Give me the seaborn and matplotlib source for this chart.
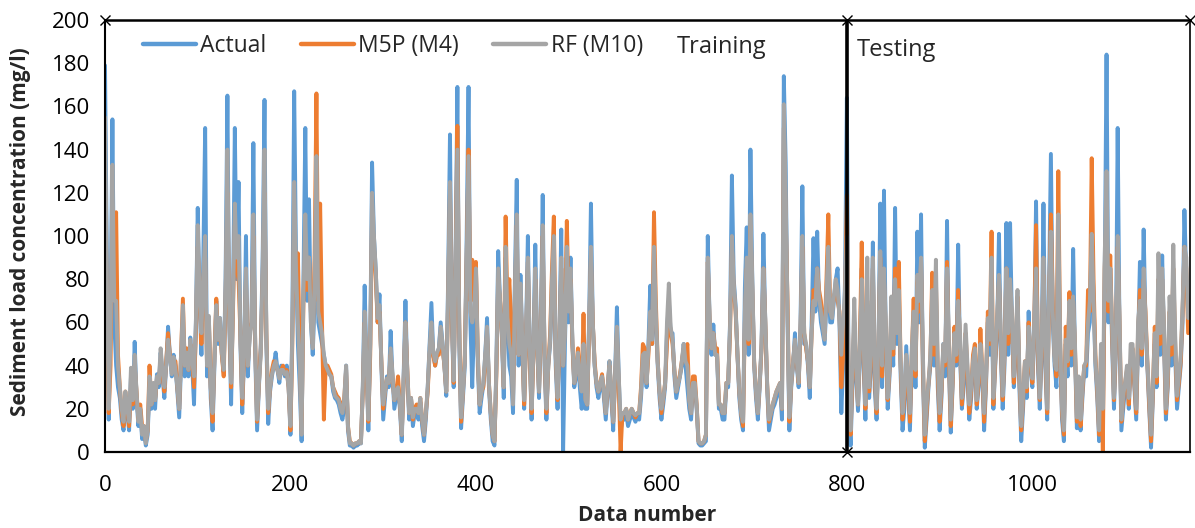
import numpy as np
import pandas as pd
import matplotlib
matplotlib.use("Agg")
import matplotlib.pyplot as plt
import seaborn as sns

# ---------------- data (every 2nd data number) ----------------
train_number = np.arange(0, 800, 2)     # 0..798
test_number = np.arange(800, 1169, 2)   # 800..1168

actual_train = [
    179, 90, 15, 60, 154, 60, 40, 30, 25, 15,
    10, 25, 18, 10, 35, 20, 51, 25, 12, 20,
    6, 10, 3, 8, 30, 20, 28, 20, 36, 30,
    46, 35, 25, 40, 58, 45, 35, 45, 40, 28,
    16, 40, 60, 35, 45, 35, 53, 40, 22, 60,
    113, 70, 45, 90, 150, 35, 60, 25, 10, 40,
    70, 50, 62, 45, 37, 80, 165, 60, 22, 70,
    150, 80, 125, 50, 18, 45, 100, 35, 55, 60,
    143, 45, 10, 30, 50, 90, 163, 50, 13, 28,
    35, 40, 46, 38, 32, 40, 38, 35, 40, 30,
    8, 60, 167, 90, 50, 30, 5, 80, 150, 70,
    117, 60, 45, 70, 120, 60, 55, 50, 45, 40,
    38, 36, 35, 28, 25, 24, 22, 18, 15, 20,
    40, 10, 3, 3, 2, 3, 3, 4, 4, 30,
    77, 40, 10, 50, 134, 100, 84, 60, 73, 40,
    15, 25, 35, 30, 56, 35, 20, 25, 30, 20,
    5, 35, 70, 35, 15, 25, 12, 18, 20, 15,
    23, 12, 5, 15, 30, 50, 69, 45, 40, 45,
    48, 60, 50, 40, 26, 80, 147, 60, 30, 90,
    169, 50, 11, 25, 40, 100, 169, 60, 30, 60,
    85, 40, 18, 25, 31, 45, 62, 30, 15, 5,
    3, 40, 93, 70, 53, 25, 90, 60, 40, 35,
    18, 80, 126, 40, 82, 50, 20, 55, 100, 45,
    15, 50, 96, 50, 25, 60, 119, 40, 15, 40,
    50, 70, 90, 40, 20, 55, 103, 0, 50, 90,
    60, 90, 50, 30, 35, 44, 30, 20, 30, 20,
    20, 60, 115, 60, 40, 30, 25, 30, 35, 25,
    15, 28, 42, 25, 10, 35, 67, 35, 10, 15,
    15, 18, 12, 15, 18, 16, 14, 16, 15, 25,
    40, 45, 30, 50, 77, 50, 90, 60, 40, 25,
    15, 22, 30, 55, 70, 55, 55, 35, 25, 30,
    35, 40, 50, 40, 30, 20, 15, 30, 30, 20,
    4, 3, 3, 4, 5, 100, 60, 45, 59, 45,
    45, 20, 20, 15, 15, 30, 30, 60, 128, 80,
    68, 45, 25, 15, 10, 76, 104, 45, 140, 80,
    40, 25, 15, 30, 50, 101, 60, 30, 10, 15,
    20, 22, 25, 28, 30, 15, 174, 134, 60, 10,
    30, 40, 55, 40, 30, 60, 123, 50, 50, 40,
    25, 60, 99, 65, 102, 70, 60, 55, 50, 70,
    85, 60, 60, 70, 80, 85, 60, 18, 40, 80,
]
actual_test = [
    164, 20, 3, 30, 52, 35, 19, 45, 85, 40,
    15, 60, 25, 40, 97, 30, 15, 45, 115, 30,
    121, 50, 20, 35, 60, 40, 113, 50, 70, 35,
    10, 20, 49, 30, 10, 40, 60, 30, 102, 60,
    110, 35, 2, 15, 30, 40, 70, 40, 75, 30,
    10, 25, 50, 35, 107, 40, 9, 30, 56, 40,
    96, 45, 20, 30, 50, 35, 15, 25, 40, 45,
    20, 30, 45, 35, 10, 30, 60, 45, 80, 20,
    40, 55, 101, 45, 20, 40, 106, 45, 106, 60,
    30, 45, 70, 30, 5, 20, 40, 25, 65, 40,
    30, 55, 116, 40, 20, 45, 115, 40, 15, 75,
    138, 60, 40, 30, 100, 45, 15, 5, 50, 35,
    70, 40, 94, 45, 11, 30, 10, 25, 39, 35,
    55, 60, 100, 70, 40, 25, 5, 40, 10, 80,
    184, 60, 85, 50, 20, 45, 150, 55, 10, 20,
    30, 35, 20, 40, 45, 30, 15, 50, 88, 40,
    103, 60, 40, 20, 2, 25, 50, 30, 70, 45,
    91, 50, 15, 30, 60, 40, 80, 45, 20, 30,
    40, 60, 112, 80, 65,
]

m5p_train = [
    128, 70, 18, 40, 110, 80, 111, 45, 30, 18,
    12, 28, 20, 12, 30, 22, 40, 28, 15, 22,
    12, 12, 5, 10, 40, 22, 30, 24, 34, 32,
    42, 36, 28, 42, 55, 45, 38, 42, 42, 30,
    20, 45, 71, 40, 48, 38, 50, 42, 30, 55,
    95, 75, 50, 80, 90, 40, 62, 30, 14, 45,
    71, 52, 58, 45, 35, 70, 120, 65, 30, 65,
    105, 85, 80, 55, 22, 45, 80, 40, 55, 60,
    100, 50, 14, 32, 48, 80, 120, 55, 18, 30,
    38, 42, 40, 38, 35, 38, 40, 36, 38, 30,
    10, 50, 110, 80, 92, 45, 10, 70, 95, 75,
    90, 65, 50, 90, 166, 70, 115, 60, 15, 40,
    40, 38, 36, 30, 28, 26, 25, 22, 20, 25,
    38, 12, 5, 4, 3, 4, 4, 5, 5, 28,
    60, 40, 14, 45, 110, 95, 80, 60, 65, 42,
    20, 28, 34, 32, 45, 35, 24, 28, 35, 22,
    8, 32, 60, 38, 18, 25, 15, 20, 22, 18,
    25, 15, 8, 18, 28, 45, 55, 45, 40, 45,
    45, 55, 48, 40, 28, 70, 120, 65, 32, 85,
    151, 60, 14, 28, 45, 90, 140, 70, 89, 70,
    88, 45, 22, 28, 30, 42, 55, 32, 18, 8,
    5, 35, 80, 70, 55, 30, 109, 65, 80, 60,
    25, 70, 105, 45, 72, 50, 22, 50, 88, 45,
    18, 45, 80, 50, 28, 55, 100, 45, 18, 40,
    55, 85, 109, 45, 24, 50, 85, 40, 60, 107,
    70, 80, 50, 32, 38, 48, 35, 30, 64, 25,
    22, 55, 90, 60, 42, 32, 28, 32, 36, 28,
    18, 30, 40, 28, 14, 32, 55, 30, 0, 18,
    18, 20, 15, 18, 20, 18, 16, 18, 18, 30,
    50, 48, 32, 45, 60, 50, 111, 70, 42, 28,
    18, 25, 32, 50, 65, 55, 50, 38, 28, 32,
    36, 42, 48, 45, 50, 25, 18, 35, 35, 22,
    5, 4, 4, 5, 8, 88, 60, 48, 55, 48,
    48, 22, 22, 18, 18, 32, 32, 55, 95, 75,
    65, 45, 28, 18, 12, 60, 85, 50, 105, 75,
    42, 28, 18, 32, 48, 85, 60, 32, 14, 18,
    22, 25, 28, 30, 32, 20, 150, 110, 70, 14,
    32, 42, 50, 42, 32, 55, 95, 55, 48, 42,
    30, 55, 75, 70, 85, 75, 70, 60, 55, 80,
    110, 65, 65, 72, 75, 70, 65, 30, 45, 70,
]
m5p_test = [
    119, 25, 8, 35, 60, 38, 22, 50, 97, 45,
    20, 70, 28, 45, 85, 35, 18, 48, 90, 35,
    80, 55, 24, 38, 65, 45, 85, 60, 88, 40,
    15, 25, 40, 32, 14, 45, 71, 35, 80, 65,
    88, 40, 5, 18, 32, 42, 83, 45, 80, 35,
    14, 28, 48, 40, 88, 45, 12, 32, 58, 42,
    75, 50, 22, 35, 55, 38, 18, 28, 45, 50,
    22, 32, 57, 38, 14, 32, 65, 50, 102, 22,
    42, 60, 80, 50, 24, 45, 85, 50, 75, 62,
    32, 48, 72, 35, 10, 24, 42, 28, 60, 42,
    32, 58, 105, 45, 24, 50, 82, 45, 18, 70,
    110, 70, 45, 35, 130, 50, 18, 8, 58, 40,
    74, 45, 70, 48, 14, 32, 12, 28, 40, 40,
    75, 65, 136, 80, 45, 28, 8, 45, 0, 85,
    110, 65, 91, 55, 24, 50, 95, 60, 14, 24,
    32, 38, 22, 42, 48, 32, 18, 55, 75, 45,
    80, 65, 42, 22, 5, 28, 58, 32, 80, 50,
    80, 55, 18, 32, 65, 45, 85, 50, 24, 32,
    42, 65, 95, 85, 55,
]

rf_train = [
    155, 80, 20, 55, 133, 70, 70, 40, 30, 20,
    14, 28, 20, 14, 39, 24, 45, 28, 14, 20,
    8, 12, 4, 10, 35, 22, 32, 24, 35, 32,
    48, 38, 30, 40, 52, 44, 36, 44, 38, 30,
    20, 45, 68, 40, 46, 38, 52, 42, 35, 60,
    105, 72, 55, 82, 100, 40, 63, 30, 18, 42,
    68, 52, 62, 46, 38, 75, 140, 65, 32, 68,
    115, 90, 100, 55, 25, 48, 85, 40, 52, 60,
    110, 50, 15, 32, 45, 85, 140, 55, 20, 30,
    36, 40, 42, 38, 34, 38, 38, 36, 37, 30,
    12, 55, 125, 85, 60, 40, 8, 75, 110, 80,
    90, 60, 48, 80, 137, 65, 60, 55, 45, 40,
    38, 36, 35, 30, 26, 25, 24, 20, 18, 25,
    40, 12, 4, 4, 3, 4, 4, 5, 4, 30,
    65, 42, 15, 50, 120, 100, 84, 62, 68, 42,
    22, 28, 34, 32, 48, 36, 24, 28, 30, 22,
    8, 34, 60, 38, 18, 25, 16, 20, 20, 18,
    25, 15, 8, 18, 30, 48, 60, 46, 42, 46,
    48, 58, 50, 40, 28, 75, 125, 65, 33, 85,
    140, 60, 16, 28, 42, 90, 137, 65, 60, 65,
    85, 45, 22, 28, 32, 45, 58, 32, 18, 8,
    5, 38, 85, 70, 55, 30, 95, 62, 50, 45,
    22, 75, 110, 45, 78, 52, 24, 52, 90, 48,
    20, 48, 85, 50, 28, 58, 105, 45, 20, 40,
    52, 80, 100, 45, 25, 52, 90, 40, 55, 95,
    65, 85, 52, 32, 38, 46, 34, 28, 50, 24,
    22, 58, 95, 60, 40, 32, 28, 32, 35, 28,
    18, 30, 42, 28, 14, 35, 58, 35, 15, 18,
    18, 20, 15, 18, 20, 18, 17, 18, 18, 28,
    45, 46, 32, 48, 65, 52, 95, 65, 42, 28,
    20, 25, 32, 60, 78, 58, 52, 38, 28, 32,
    35, 42, 50, 42, 40, 24, 18, 32, 32, 22,
    5, 4, 4, 5, 8, 90, 62, 48, 55, 45,
    45, 22, 22, 18, 18, 32, 32, 58, 100, 78,
    66, 46, 28, 18, 14, 65, 90, 52, 110, 80,
    42, 28, 18, 32, 50, 85, 62, 32, 15, 18,
    22, 25, 28, 30, 32, 20, 161, 120, 65, 16,
    32, 42, 52, 42, 32, 58, 100, 55, 50, 42,
    30, 55, 70, 68, 85, 72, 65, 58, 52, 75,
    95, 65, 62, 72, 80, 75, 62, 45, 60, 75,
]
rf_test = [
    100, 30, 10, 40, 71, 40, 22, 48, 80, 50,
    22, 90, 30, 48, 90, 40, 20, 50, 93, 40,
    85, 60, 25, 40, 72, 48, 80, 55, 75, 42,
    18, 28, 45, 35, 18, 48, 65, 38, 82, 70,
    90, 45, 8, 22, 32, 45, 75, 50, 89, 40,
    18, 30, 50, 42, 85, 50, 15, 35, 55, 45,
    70, 55, 25, 38, 59, 40, 22, 30, 42, 48,
    24, 35, 50, 40, 18, 35, 62, 52, 90, 25,
    45, 62, 82, 52, 26, 48, 85, 55, 80, 65,
    35, 50, 75, 38, 12, 26, 42, 30, 58, 45,
    34, 60, 85, 48, 25, 52, 90, 48, 20, 72,
    102, 65, 42, 38, 110, 52, 20, 10, 52, 42,
    70, 48, 72, 50, 16, 35, 15, 30, 40, 42,
    60, 70, 101, 72, 42, 30, 10, 50, 20, 90,
    130, 70, 85, 58, 25, 52, 100, 62, 15, 26,
    32, 40, 25, 50, 50, 35, 20, 60, 70, 48,
    85, 62, 42, 25, 8, 30, 55, 35, 92, 55,
    85, 58, 20, 35, 72, 50, 96, 55, 26, 35,
    45, 68, 95, 90, 62,
]

series_names = ["Actual", "M5P (M4)", "RF (M10)"]
series_colors = ["#5B9BD5", "#ED7D31", "#A5A5A5"]
split_at = 800          # boundary between training and testing
x_max = 1170
y_max = 200
x_ticks = [0, 200, 400, 600, 800, 1000]
y_ticks = list(range(0, 201, 20))
x_label = "Data number"
y_label = "Sediment load concentration (mg/l)"
panel_labels = ["Training", "Testing"]

# ---------------- figure ----------------
sns.set_style("white")
plt.rcParams["font.family"] = ["Open Sans", "DejaVu Sans"]

data_number = np.concatenate([train_number, test_number])
series_values = [actual_train + actual_test, m5p_train + m5p_test, rf_train + rf_test]
df = pd.concat([
    pd.DataFrame({"n": data_number, "v": vals, "series": name})
    for name, vals in zip(series_names, series_values)
], ignore_index=True)

fig = plt.figure(figsize=(11.95, 5.28), dpi=100)
ax = fig.add_axes([105 / 1195, 76 / 528, 1085 / 1195, 432 / 528])

sns.lineplot(data=df, x="n", y="v", hue="series", hue_order=series_names,
             palette=series_colors, linewidth=2.8, estimator=None, sort=False,
             legend=False, ax=ax)

ax.set_xlim(0, x_max)
ax.set_ylim(0, y_max)
ax.set_xticks(x_ticks)
ax.set_yticks(y_ticks)
ax.tick_params(axis="both", direction="out", length=5.8, width=1.1,
               color="black", labelsize=16, labelcolor="black")
ax.tick_params(axis="x", pad=11)
ax.tick_params(axis="y", pad=5)

for side, lw in (("left", 1.5), ("bottom", 1.6), ("top", 1.8), ("right", 1.2)):
    ax.spines[side].set_visible(True)
    ax.spines[side].set_color("black")
    ax.spines[side].set_linewidth(lw)

# divider between training and testing
ax.axvline(split_at, color="black", linewidth=2.6, zorder=6)
ax.plot([0, split_at, x_max, split_at], [y_max, y_max, y_max, 0], linestyle="none",
        marker="x", color="black", markersize=7, markeredgewidth=1.0,
        clip_on=False, zorder=7)

ax.set_xlabel(x_label, fontsize=15, fontweight="bold")
ax.set_ylabel(y_label, fontsize=15, fontweight="bold")
ax.xaxis.set_label_coords(0.5, -0.122)
ax.yaxis.set_label_coords(-0.068, 0.51)

handles = ax.get_lines()[:3]
fig.legend(handles, series_names, loc="center left",
           bbox_to_anchor=(143 / 1195, 1 - 46 / 528), bbox_transform=fig.transFigure,
           ncol=3, frameon=False, fontsize=16.5, handlelength=2.3,
           handletextpad=0.2, columnspacing=1.5, borderpad=0, borderaxespad=0)
for h in fig.legends[0].get_lines():
    h.set_linewidth(3.2)

fig.text(677 / 1195, 1 - 53 / 528, panel_labels[0], fontsize=17, va="baseline")
fig.text(857 / 1195, 1 - 56 / 528, panel_labels[1], fontsize=17, va="baseline")

fig.savefig("out.png", dpi=100)
